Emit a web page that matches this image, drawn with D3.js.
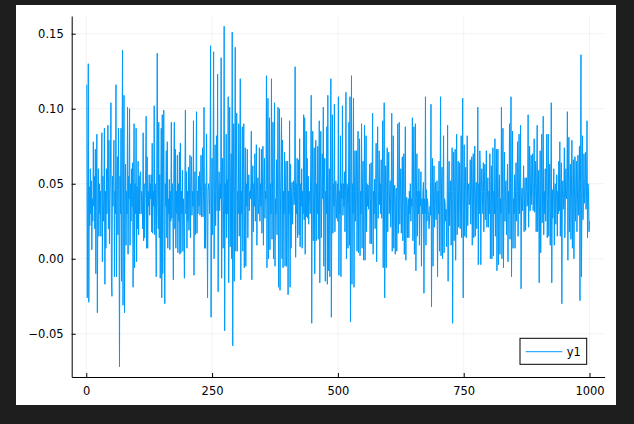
<!DOCTYPE html>
<html>
<head>
<meta charset="utf-8">
<script src="https://cdn.jsdelivr.net/npm/d3@7"></script>
<style>
  body { margin: 0; background: #1e1e1e; width: 634px; height: 424px; overflow: hidden; }
  #mysvg { position: absolute; left: 16px; top: 5px; background: #fff; }
  text { font-family: "DejaVu Sans", sans-serif; font-size: 11.5px; fill: #000; }
</style>
</head>
<body>
<svg id="mysvg" width="600" height="400"></svg>
<script>
// series values, in thousandths
var y1 = [
  116,-26,45,130,-29, 48,22,60,30,52, 6,40,25,78,35, 55,20,73,-10,50,
  83,-36,40,60,15, 50,30,45,15,62, 84,-2,55,25,40, 87,-17,45,7,60,
  30,50,89,20,79, 10,40,60,104,-15, -25,55,35,62,79, -12,45,30,116,-12,
  50,68,16,87,40, -72,55,30,87,-15, 60,139,-31,50,109, -36,40,63,9,45,
  30,101,3,55,40, 100,9,50,25,60, 35,64,-19,45,90, -6,50,30,87,-2,
  48,20,65,16,55, 30,57,
  58,30,45,40,20, 84,12,50,14,40, 60,95,7,68,7, 45,35,56,29,50,
  40,56,18,77,17, 45,35,102,16,50, 30,-12,60,137,40, 20,91,14,56,-13,
  40,87,-26,96,-10, 45,99,20,-30,50, 35,72,14,78,7, 40,30,53,6,45,
  25,91,27,50,35, -14,60,91,20,73, 7,45,30,69,4, 50,25,71,3,77,
  4,45,30,59,5, 40,20,-13,55,99, 30,58,7,45,25, 61,19,40,69,14,
  50,68,29,45,35, 92,-11,40,58,16, 50,98,17,45,30, 55,35,58,29,45,
  69,28,50,74,28, 45,101,7,50,7, 40,83,30,-26,45,
  50,45,30,60,142, -39,40,67,16,50, 138,0,45,76,22, 50,82,32,123,-22,
  45,58,32,50,40, 134,-13,50,67,7, 40,155,-48,50,30, 83,14,53,30,108,
  -16,45,101,8,50, 70,0,151,-58,40, 90,-15,50,141,5, 60,97,5,45,30,
  90,15,50,120,-14, 45,30,88,5,55, 90,-6,40,74,-5, 50,35,73,14,45,
  56,32,45,40,50, 85,-14,45,62,18, 50,35,70,25,45, 76,9,45,54,30,
  40,74,25,50,35, 73,17,45,75,9, 50,67,27,45,40, 122,-6,50,107,0,
  45,94,6,50,30, 120,13,45,91,0, 50,104,-5,40,30,
  66,16,50,101,-19, 45,100,-21,40,60, 94,0,79,-6,45, 30,71,-5,50,65,
  -5,40,65,-24,45, 30,92,-19,63,7, 45,51,23,40,52, 36,45,128,1,50,
  30,67,14,45,66, 16,80,8,50,35, 60,7,45,30,96, 26,94,3,50,85,
  28,67,27,55,23, 45,40,30,60,109, -43,50,85,12,45, 74,-10,40,79,12,
  50,30,75,13,45, 92,-16,50,85,14, 40,70,40,101,-5, 50,67,-15,45,30,
  88,-17,109,-8,40, 60,-12,45,120,-39, 40,96,17,50,35, 103,18,45,52,27,
  40,50,25,108,-11, 45,30,82,-12,50, 40,102,29,50,35,
  58,18,45,111,0, 50,47,7,40,91, 9,108,-42,45,122, -17,50,30,107,-19,
  45,72,25,50,72, 5,45,85,4,50, 80,2,45,30,90, 7,50,65,-1,40,
  89,-1,45,82,18, 50,35,49,33,45, 63,10,40,64,10, 50,97,3,45,30,
  53,20,45,77,-2, 50,88,27,45,72, 36,50,30,66,27, 45,92,-6,50,104,
  -26,40,62,-6,45, 74,18,50,71,30, 45,52,21,40,97, 5,50,82,7,45,
  49,3,40,47,5, 45,90,17,50,91, 23,45,60,17,40, 68,12,50,70,3,
  45,88,-1,40,41, 14,35,40,14,45, 30,50,25,40,35,
  94,12,50,88,3, 45,90,-8,40,70, 15,45,30,60,9, 45,35,58,-5,40,
  30,45,51,-23,40, 30,108,9,46,25, 40,35,29,20,25, 35,29,103,-32,45,
  67,-5,40,62,21, 45,51,26,40,52, -12,45,30,65,5, 40,108,2,50,61,
  0,45,82,4,40, 37,25,33,8,30, 89,-15,45,65,22, 40,52,9,45,74,
  -43,40,71,12,45, 73,-1,50,83,16, 45,65,21,40,64, 20,45,82,14,50,
  107,-26,40,76,15, 45,61,14,40,82, 22,45,50,36,40, 66,23,45,68,9,
  50,70,14,40,75, 15,45,51,20,40, 101,-4,50,30,72,
  61,-4,45,60,45, 30,64,18,45,63, 26,45,72,21,40, 54,21,45,30,70,
  0,45,62,0,40, 74,2,45,30,80, 15,45,73,-8,40, 73,-4,45,56,3,
  40,30,101,0,50, 87,-6,40,71,25, 45,52,16,40,63, -2,45,30,90,13,
  50,108,-12,45,85, 7,40,30,56,7, 45,64,25,40,78, 15,45,83,30,45,
  89,-20,40,47,32, 45,62,18,40,54, 19,45,54,35,40, 96,21,45,75,32,
  50,69,36,45,70, 32,40,80,31,45, 65,18,50,89,18, 40,59,-16,45,72,
  4,40,83,24,50, 95,16,45,30,60, 25,45,83,14,40,
  83,15,45,63,9, 40,104,-16,46,27, 40,60,9,45,50, 23,40,56,15,45,
  30,65,32,78,15, 45,64,-30,40,52, 33,45,74,14,40, 60,40,45,98,-1,
  50,81,18,45,63, 13,40,79,7,45, 66,0,40,68,25, 45,65,18,40,69,
  29,45,75,-28,50, 136,-12,45,82,26, 40,70,37,45,71, 33,40,92,14,50,
  45,18,25
];
var seriesName = "y1";
var xTicks = [0, 250, 500, 750, 1000];
var yTicks = [-0.05, 0.00, 0.05, 0.10, 0.15];

function drawChart(values)
{
    var chartsvg = d3.select("#mysvg");
    var width = 600, height = 400;
    var margin = {left: 55.7, top: 11, right: 11.4, bottom: 28};

    var data = values.map(function(v, i) { return {x: i + 1, y: v / 1000}; });

    // widen the data range by 3% each side, like Plots.jl does
    function widen(ext) {
        var pad = (ext[1] - ext[0]) * 0.03;
        return [ext[0] - pad, ext[1] + pad];
    }

    var x = d3.scaleLinear()
        .domain(widen(d3.extent(data, function(d) { return d.x; })))
        .range([margin.left, width - margin.right]);
    var y = d3.scaleLinear()
        .domain(widen(d3.extent(data, function(d) { return d.y; })))
        .range([height - margin.bottom, margin.top]);

    // grid
    var grid = chartsvg.append("g");
    grid.selectAll(".gx").data(xTicks).enter().append("line")
        .attr("x1", function(d) { return x(d); })
        .attr("x2", function(d) { return x(d); })
        .attr("y1", margin.top).attr("y2", height - margin.bottom)
        .attr("stroke", "#000").attr("stroke-opacity", 0.1).attr("stroke-width", 0.5);
    grid.selectAll(".gy").data(yTicks).enter().append("line")
        .attr("y1", function(d) { return y(d); })
        .attr("y2", function(d) { return y(d); })
        .attr("x1", margin.left).attr("x2", width - margin.right)
        .attr("stroke", "#000").attr("stroke-opacity", 0.1).attr("stroke-width", 0.5);

    // series
    var line = d3.line()
        .x(function(d) { return x(d.x); })
        .y(function(d) { return y(d.y); });
    chartsvg.append("path")
        .datum(data)
        .attr("fill", "none")
        .attr("stroke", "#009afa")
        .attr("stroke-width", 1)
        .attr("d", line);

    // axes, ticks pointing inward
    var xAxis = d3.axisBottom(x).tickValues(xTicks).tickSizeInner(-4).tickSizeOuter(0)
        .tickPadding(10).tickFormat(d3.format("d"));
    var yAxis = d3.axisLeft(y).tickValues(yTicks).tickSizeInner(-4).tickSizeOuter(0)
        .tickPadding(8).tickFormat(d3.format(".2f"));

    var gx = chartsvg.append("g")
        .attr("transform", "translate(0," + (height - margin.bottom) + ")")
        .call(xAxis);
    var gy = chartsvg.append("g")
        .attr("transform", "translate(" + margin.left + ",0)")
        .call(yAxis);
    [gx, gy].forEach(function(g) {
        g.selectAll("text").style("font-family", "'DejaVu Sans', sans-serif").style("font-size", "11.5px");
        g.select(".domain").attr("stroke", "#000");
        g.selectAll(".tick line").attr("stroke", "#000");
    });

    // legend
    var lg = chartsvg.append("g").attr("transform", "translate(504,333.3)");
    lg.append("rect")
        .attr("width", 66.7).attr("height", 26)
        .attr("fill", "#fff").attr("stroke", "#000").attr("stroke-width", 1);
    lg.append("line")
        .attr("x1", 5.7).attr("x2", 42.3).attr("y1", 13.4).attr("y2", 13.4)
        .attr("stroke", "#009afa").attr("stroke-width", 1);
    lg.append("text")
        .attr("x", 46.7).attr("y", 17.8)
        .text(seriesName);
}

drawChart(y1);
</script>
</body>
</html>
